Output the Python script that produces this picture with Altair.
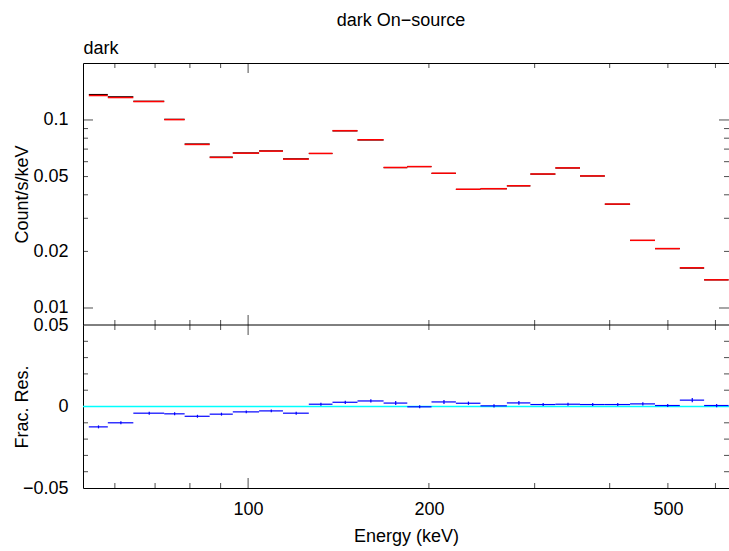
import altair as alt
import pandas as pd

# ---------------- data ----------------
# channel bin edges (keV)
edges = [54.3, 58.4, 64.4, 72.5, 78.4, 86.3, 94.3, 104.3, 114.3, 126.2,
         138.2, 152.1, 168.1, 184.1, 202.0, 221.8, 243.7, 269.7, 295.1,
         324.8, 357.0, 392.6, 432.5, 475.9, 523.4, 574.5, 631.0]
# data (Count/s/keV)
rate = [0.1349, 0.1316, 0.1253, 0.1004, 0.0741, 0.0632, 0.0666, 0.0683,
        0.0619, 0.0664, 0.0877, 0.0785, 0.0559, 0.0565, 0.0521, 0.0428,
        0.0431, 0.0447, 0.0516, 0.0556, 0.0504, 0.0357, 0.0229, 0.0207,
        0.01636, 0.01412]
# fractional residuals
resid = [-0.0125, -0.0100, -0.0041, -0.0045, -0.0060, -0.0047, -0.0033,
         -0.0027, -0.0041, 0.0014, 0.0026, 0.0034, 0.0021, -0.0002, 0.0028,
         0.0020, 0.0004, 0.0022, 0.0012, 0.0014, 0.0012, 0.0012, 0.0016,
         0.0006, 0.0039, 0.0006]
# fractional errors
resid_err = [0.0009, 0.0009, 0.0009, 0.0009, 0.0009, 0.0009, 0.0009, 0.0009,
             0.0009, 0.0009, 0.0010, 0.0010, 0.0012, 0.0009, 0.0012, 0.0010,
             0.0010, 0.0012, 0.0009, 0.0009, 0.0009, 0.0009, 0.0010, 0.0009,
             0.0013, 0.0010]

# axis labels and tick marks
x_label_values = [100, 200, 500]
x_major_ticks = [100]
x_minor_ticks = [60, 70, 80, 90, 200, 300, 400, 500, 600]
rate_label_values = [0.01, 0.02, 0.05, 0.1]
rate_major_ticks = [0.01, 0.1]
rate_minor_ticks = [0.02, 0.03, 0.04, 0.05, 0.06, 0.07, 0.08, 0.09]
res_label_values = [-0.05, 0, 0.05]
res_major_ticks = [0]
res_minor_ticks = [-0.04, -0.03, -0.02, -0.01, 0.01, 0.02, 0.03, 0.04]

x_domain = [53.1, 632.0]
rate_domain = [0.00812, 0.2009]
res_domain = [-0.05, 0.05]

# ---------------- chart ----------------
FONT = "Liberation Sans"
W, H_TOP, H_BOT = 646, 262, 163
H = H_TOP + H_BOT

bins = pd.DataFrame({"lo": edges[:-1], "hi": edges[1:], "rate": rate,
                     "res": resid, "err": resid_err})

x_scale = alt.Scale(type="log", domain=x_domain, nice=False)
rate_scale = alt.Scale(type="log", domain=rate_domain, nice=False,
                       range=[H_TOP, 0])
res_scale = alt.Scale(type="linear", domain=res_domain, nice=False, zero=False,
                      range=[H, H_TOP])

x_axis_top = alt.Axis(orient="top", title="dark", labels=False, ticks=False,
                      domain=True, grid=False, titleX=0, titleY=-10,
                      titleAlign="left", titleAnchor="start",
                      titleBaseline="alphabetic")
x_axis_bot = alt.Axis(orient="bottom", title="Energy (keV)",
                      values=x_label_values, format="~g",
                      ticks=False, tickSize=0, domain=True, grid=False,
                      labelPadding=12, labelFlush=False, labelOverlap=False,
                      titleY=53, titleBaseline="alphabetic")
rate_axis = alt.Axis(orient="left", title="Count/s/keV",
                     values=rate_label_values, format="~g",
                     ticks=False, tickSize=0, domain=True, grid=False,
                     labelPadding=15, labelFlush=False, labelOverlap=False,
                     labelBound=False,
                     titleX=-56, titleY=H_TOP / 2, titleAngle=-90,
                     titleAlign="center", titleBaseline="alphabetic")
res_axis = alt.Axis(orient="left", title="Frac. Res.",
                    values=res_label_values, format="~g",
                    ticks=False, tickSize=0, domain=True, grid=False,
                    labelPadding=15, labelFlush=False, labelOverlap=False,
                    labelBound=False,
                    titleX=-56, titleY=H_TOP + H_BOT / 2, titleAngle=-90,
                    titleAlign="center", titleBaseline="alphabetic")


def X(field, axis):
    return alt.X(field, type="quantitative", scale=x_scale, axis=axis)


def Y(field, scale, axis):
    return alt.Y(field, type="quantitative", scale=scale, axis=axis)


def x_tick_layers(xaxis, ypos_list):
    layers = []
    for vals, size in ((x_major_ticks, 20), (x_minor_ticks, 10)):
        df = pd.DataFrame({"tv": vals})
        base = alt.Chart(df).mark_tick(color="black", thickness=1, size=size,
                                       clip=True, orient="vertical")
        for ypos in ypos_list:
            layers.append(base.encode(x=X("tv", xaxis), y=alt.value(ypos)))
    return layers


def y_tick_layers(yscale, yaxis, y_major, y_minor):
    layers = []
    for vals, size in ((y_major, 20), (y_minor, 10)):
        df = pd.DataFrame({"tv": vals})
        base = alt.Chart(df).mark_tick(color="black", thickness=1, size=size,
                                       clip=True, orient="horizontal")
        layers.append(base.encode(y=Y("tv", yscale, yaxis), x=alt.value(0)))
        layers.append(base.encode(y=Y("tv", yscale, yaxis), x=alt.value(W)))
    return layers


# ---- top panel: data and model ----
top_base = alt.Chart(bins).transform_calculate(
    model="datum.rate / (1 + datum.res)",
    mid="(datum.lo + datum.hi) / 2",
    rlo="datum.rate * (1 - datum.err)",
    rhi="datum.rate * (1 + datum.err)",
)
model_lines = top_base.mark_rule(color="black", strokeWidth=1.1).encode(
    x=X("lo", x_axis_top), x2="hi", y=Y("model", rate_scale, rate_axis))
data_lines = top_base.mark_rule(color="#ff0000", strokeWidth=1.5).encode(
    x=X("lo", x_axis_top), x2="hi", y=Y("rate", rate_scale, rate_axis))
data_err = top_base.mark_rule(color="#ff0000", strokeWidth=1).encode(
    x=X("mid", x_axis_top), y=Y("rlo", rate_scale, rate_axis), y2="rhi")

top = alt.layer(
    model_lines, data_lines, data_err,
    *x_tick_layers(x_axis_top, [0, H_TOP]),
    *y_tick_layers(rate_scale, rate_axis, rate_major_ticks, rate_minor_ticks),
)

# ---- bottom panel: residuals ----
res_base = alt.Chart(bins).transform_calculate(
    mid="(datum.lo + datum.hi) / 2",
    elo="datum.res - datum.err",
    ehi="datum.res + datum.err",
)
mid_frame = alt.Chart(pd.DataFrame({"k": [0]})).mark_rule(
    color="black", strokeWidth=1).encode(y=alt.value(H_TOP))
zero_line = alt.Chart(pd.DataFrame({"z": [0]})).mark_rule(
    color="#00ffff", strokeWidth=1.5).encode(y=Y("z", res_scale, res_axis))
res_lines = res_base.mark_rule(color="#0000ff", strokeWidth=1.2).encode(
    x=X("lo", x_axis_bot), x2="hi", y=Y("res", res_scale, res_axis))
res_err = res_base.mark_rule(color="#0000ff", strokeWidth=1.2).encode(
    x=X("mid", x_axis_bot), y=Y("elo", res_scale, res_axis), y2="ehi")

bottom = alt.layer(
    *x_tick_layers(x_axis_bot, [H]),
    *y_tick_layers(res_scale, res_axis, res_major_ticks, res_minor_ticks),
    zero_line, res_lines, res_err, mid_frame,
)

chart = alt.layer(top, bottom).resolve_scale(
    y="independent"
).resolve_axis(
    x="independent", y="independent"
).properties(
    width=W, height=H,
    title=alt.TitleParams("dark On\u2212source", anchor="middle", frame="group",
                          baseline="alphabetic", offset=-5, dx=-5, font=FONT,
                          fontSize=18, fontWeight="normal", color="black"),
    padding={"left": 83, "top": 63, "right": 0, "bottom": 58},
    autosize=alt.AutoSizeParams(type="none"),
    background="white",
).configure_axis(
    labelFont=FONT, titleFont=FONT, labelFontSize=18, titleFontSize=18,
    labelColor="black", titleColor="black", titleFontWeight="normal",
    domainColor="black", domainWidth=1, grid=False,
).configure_view(stroke=None)

chart.save("out.html", embed_options={"renderer": "svg", "actions": False})
